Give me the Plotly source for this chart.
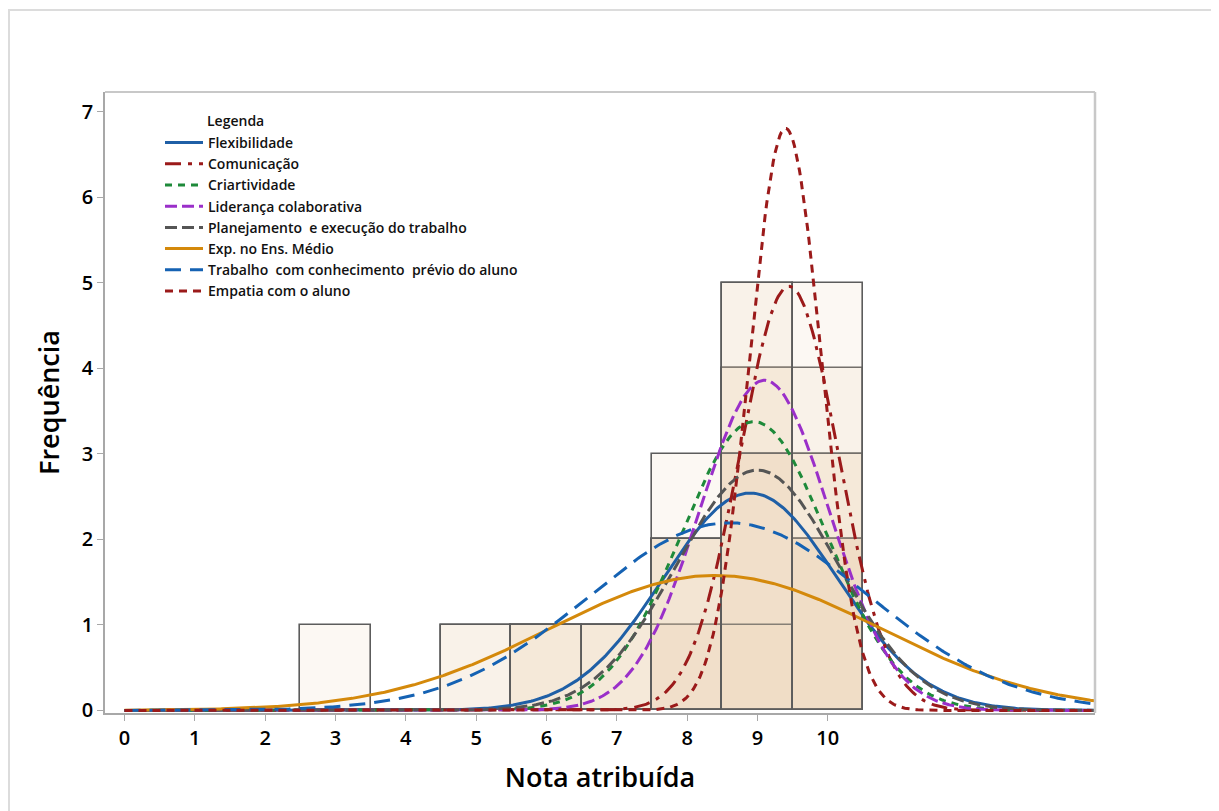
import numpy as np
import plotly.graph_objects as go

# ---------------- data ----------------
series_names = [
    "Flexibilidade",
    "Comunicação",
    "Criartividade",
    "Liderança colaborativa",
    "Planejamento  e execução do trabalho",
    "Exp. no Ens. Médio",
    "Trabalho  com conhecimento  prévio do aluno",
    "Empatia com o aluno",
]

# histogram bins (nota) and counts per series
bin_centers = [3, 4, 5, 6, 7, 8, 9, 10]
counts_flex = [0, 0, 0, 1, 1, 2, 3, 2]
counts_comu = [0, 0, 0, 0, 0, 1, 4, 4]
counts_cria = [0, 0, 0, 0, 1, 2, 4, 2]
counts_lide = [0, 0, 0, 0, 1, 1, 5, 2]
counts_plan = [0, 0, 0, 1, 0, 2, 3, 3]
counts_expe = [1, 0, 1, 1, 1, 3, 1, 2]
counts_trab = [0, 0, 1, 1, 0, 2, 3, 3]
counts_empa = [0, 0, 0, 0, 0, 0, 5, 5]
all_counts = [counts_flex, counts_comu, counts_cria, counts_lide,
              counts_plan, counts_expe, counts_trab, counts_empa]

# fitted normal curves (mean, std dev, n)
curve_mean = [8.9, 9.45, 8.95, 9.1, 9.0, 8.4, 8.6, 9.4]
curve_sd = [1.24, 0.70, 1.04, 0.92, 1.15, 2.35, 2.0, 0.51]
curve_n = [7.9, 8.7, 8.8, 8.9, 8.1, 9.3, 11.0, 8.7]

x_ticks = [0, 1, 2, 3, 4, 5, 6, 7, 8, 9, 10]
y_ticks = [0, 1, 2, 3, 4, 5, 6, 7]

# ---------------- styles ----------------
colors = ["#1f5fa6", "#9b1a1a", "#1e8a3a", "#9a2fc9",
          "#555555", "#d4890b", "#1562b3", "#9b1a1a"]
dashes = ["solid", "16px,7px,4px,7px", "7px,6px", "12px,5px",
          "12px,5px", "solid", "16px,9px", "8px,6px"]

fig = go.Figure()

for cnt in all_counts:
    fig.add_trace(go.Bar(
        x=bin_centers, y=cnt, width=1.0,
        marker=dict(color="rgba(236,212,178,0.16)",
                    line=dict(color="#5c5c5c", width=1.6)),
        showlegend=False, hoverinfo="skip",
    ))

xs = np.linspace(0, 13.85, 600)
for i, name in enumerate(series_names):
    m, s, n = curve_mean[i], curve_sd[i], curve_n[i]
    ys = n / (s * np.sqrt(2 * np.pi)) * np.exp(-0.5 * ((xs - m) / s) ** 2)
    fig.add_trace(go.Scatter(
        x=xs, y=ys, mode="lines", name=name,
        line=dict(color=colors[i], width=3, dash=dashes[i]),
    ))

font_fam = "Open Sans, Noto Sans, sans-serif"

# page body has an 8px offset; margins compensate so the plot sits where the
# reference has it
W, H = 1219, 811
ml, mr, mt, mb = 97, 132, 84, 106
pw, ph = W - ml - mr, H - mt - mb

def px_x(px):  # window pixel -> paper x
    return (px - 8 - ml) / pw

def px_y(py):  # window pixel -> paper y
    return (H - mb - (py - 8)) / ph

fig.update_layout(
    width=W, height=H,
    margin=dict(l=ml, r=mr, t=mt, b=mb),
    paper_bgcolor="white", plot_bgcolor="white",
    barmode="overlay", bargap=0,
    font=dict(family=font_fam, color="black"),
    showlegend=True,
    legend=dict(
        x=px_x(160), y=px_y(127),
        xanchor="left", yanchor="top",
        bgcolor="rgba(0,0,0,0)",
        font=dict(size=14, family=font_fam, color="#111", weight=600),
        tracegroupgap=0, itemwidth=38,
    ),
    xaxis=dict(
        range=[-0.277, 13.8], tickvals=x_ticks, ticktext=[str(v) for v in x_ticks],
        showgrid=False, zeroline=False,
        showline=True, linecolor="#a8a8a8", linewidth=1.5, mirror=False,
        ticks="outside", ticklen=6, tickcolor="#a8a8a8",
        tickfont=dict(size=20, family=font_fam, weight=600),
        title=dict(text="Nota atribuída", standoff=18,
                   font=dict(size=27, family=font_fam, weight=600)),
    ),
    yaxis=dict(
        range=[-0.03, 7.23], tickvals=y_ticks,
        showgrid=False, zeroline=False,
        showline=True, linecolor="#a8a8a8", linewidth=1.5, mirror=False,
        ticks="outside", ticklen=6, tickcolor="#a8a8a8",
        tickfont=dict(size=20, family=font_fam, weight=600),
        title=dict(text="Frequência", standoff=14,
                   font=dict(size=27, family=font_fam, weight=600)),
    ),
    shapes=[
        dict(type="line", xref="paper", yref="paper", x0=0, x1=1, y0=1, y1=1,
             line=dict(color="#c8c8c8", width=2)),
        dict(type="line", xref="paper", yref="paper", x0=1, x1=1, y0=0, y1=1,
             line=dict(color="#c8c8c8", width=2.5)),
        dict(type="rect", xref="paper", yref="paper",
             x0=px_x(9), x1=px_x(1216),
             y0=px_y(840), y1=px_y(10),
             line=dict(color="#dcdcdc", width=2)),
    ],
    annotations=[
        dict(text="Legenda", xref="paper", yref="paper",
             x=px_x(205), y=px_y(121),
             xanchor="left", yanchor="middle", showarrow=False,
             font=dict(size=14, family=font_fam, color="#111", weight=600)),
    ],
)

fig.write_html("out.html")
